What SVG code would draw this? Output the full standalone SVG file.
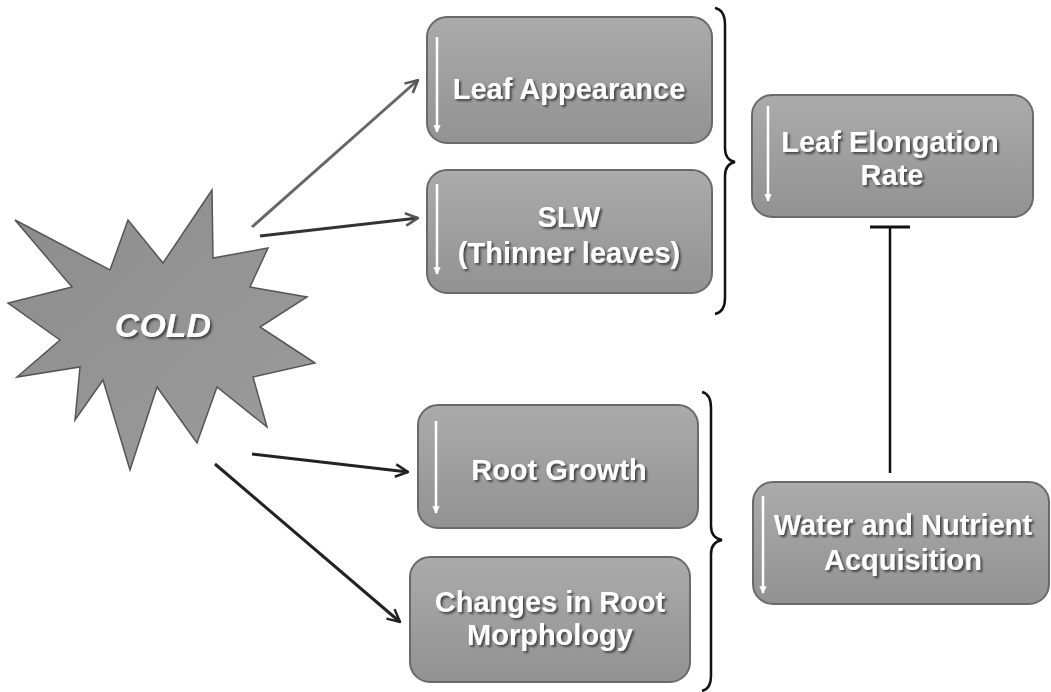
<svg xmlns="http://www.w3.org/2000/svg" width="1051" height="692" viewBox="0 0 1051 692">
<defs>
<linearGradient id="boxGrad" x1="0" y1="0" x2="0" y2="1">
<stop offset="0" stop-color="#ababab"/>
<stop offset="1" stop-color="#929292"/>
</linearGradient>
<linearGradient id="starGrad" x1="0" y1="0" x2="1" y2="1">
<stop offset="0" stop-color="#8c8c8c"/>
<stop offset="1" stop-color="#9c9c9c"/>
</linearGradient>
<filter id="shadow" x="-10%" y="-30%" width="120%" height="160%">
<feDropShadow dx="2" dy="2" stdDeviation="1" flood-color="#3a3a3a" flood-opacity="0.9"/>
</filter>
<marker id="arrowD" viewBox="0 0 12 12" refX="11" refY="6" markerWidth="5" markerHeight="5" orient="auto" markerUnits="strokeWidth">
<path d="M1,1 L11,6 L1,11" fill="none" stroke="#222" stroke-width="2"/>
</marker>
<marker id="arrowG" viewBox="0 0 12 12" refX="11" refY="6" markerWidth="5" markerHeight="5" orient="auto" markerUnits="strokeWidth">
<path d="M1,1 L11,6 L1,11" fill="none" stroke="#555" stroke-width="2"/>
</marker>
<marker id="downW" viewBox="0 0 10 10" refX="9" refY="5" markerWidth="3" markerHeight="3" orient="auto" markerUnits="strokeWidth">
<path d="M0,0 L10,5 L0,10 Z" fill="#ffffff"/>
</marker>
<style>
.box{fill:url(#boxGrad);stroke:#6a6a6a;stroke-width:2}
.lbl{font-family:"Liberation Sans",Arial,sans-serif;font-weight:bold;font-size:29px;fill:#ffffff;text-anchor:middle;filter:url(#shadow)}
.down{stroke:#ffffff;stroke-width:2.5;marker-end:url(#downW)}
.brace{fill:none;stroke:#111;stroke-width:2.5}
</style>
</defs>
<rect width="1051" height="692" fill="#ffffff"/>

<g id="cold">
<polygon points="15,220 110,270 128,220 163,263 212,190 213,258 268,248 250,287 307,297 260,327 315,363 253,377 267,427 217,387 197,443 157,387 130,470 103,380 75,420 80,367 17,377 60,340 8,303 72,287" fill="url(#starGrad)" stroke="#555" stroke-width="1.5" stroke-linejoin="miter"/>
<text x="163" y="337" font-family="Liberation Sans, Arial, sans-serif" font-weight="bold" font-style="italic" font-size="34" fill="#ffffff" text-anchor="middle" filter="url(#shadow)">COLD</text>
</g>

<g id="leaf-appearance">
<rect class="box" x="427" y="17" width="285" height="126" rx="20"/>
<line class="down" x1="437" y1="37" x2="437" y2="132"/>
<text class="lbl" x="569" y="99">Leaf Appearance</text>
</g>

<g id="slw">
<rect class="box" x="427" y="170" width="285" height="123" rx="20"/>
<line class="down" x1="437" y1="184" x2="437" y2="274"/>
<text class="lbl" x="569" y="227">SLW</text>
<text class="lbl" x="569" y="263">(Thinner leaves)</text>
</g>

<g id="leaf-elongation">
<rect class="box" x="752" y="95" width="281" height="122" rx="20"/>
<line class="down" x1="768" y1="106" x2="768" y2="201"/>
<text class="lbl" x="890" y="152">Leaf Elongation</text>
<text class="lbl" x="892" y="185">Rate</text>
</g>

<g id="root-growth">
<rect class="box" x="418" y="405" width="280" height="123" rx="20"/>
<line class="down" x1="436" y1="421" x2="436" y2="513"/>
<text class="lbl" x="559" y="480">Root Growth</text>
</g>

<g id="root-morphology">
<rect class="box" x="410" y="557" width="280" height="125" rx="20"/>
<text class="lbl" x="550" y="612">Changes in Root</text>
<text class="lbl" x="550" y="645">Morphology</text>
</g>

<g id="water-nutrient">
<rect class="box" x="753" y="482" width="296" height="122" rx="20"/>
<line class="down" x1="763" y1="496" x2="763" y2="593"/>
<text class="lbl" x="903" y="535">Water and Nutrient</text>
<text class="lbl" x="903" y="570">Acquisition</text>
</g>

<g id="braces">
<path class="brace" d="M715,8 Q725,10 725,25 L725,148 Q725,160 735,162 Q725,164 725,176 L725,298 Q725,312 715,314"/>
<path class="brace" d="M702,392 Q711,394 711,408 L711,526 Q711,538 722,540 Q711,542 711,554 L711,676 Q711,689 702,691"/>
</g>

<g id="connectors">
<line x1="252" y1="227" x2="418" y2="80" stroke="#666" stroke-width="3" marker-end="url(#arrowG)"/>
<line x1="260" y1="236" x2="418" y2="218" stroke="#333" stroke-width="3" marker-end="url(#arrowG)"/>
<line x1="252" y1="454" x2="408" y2="472" stroke="#222" stroke-width="3" marker-end="url(#arrowD)"/>
<line x1="215" y1="464" x2="400" y2="622" stroke="#222" stroke-width="3" marker-end="url(#arrowD)"/>
<line x1="890" y1="227" x2="890" y2="473" stroke="#111" stroke-width="2.5"/>
<line x1="870" y1="227" x2="910" y2="227" stroke="#111" stroke-width="3"/>
</g>
</svg>
